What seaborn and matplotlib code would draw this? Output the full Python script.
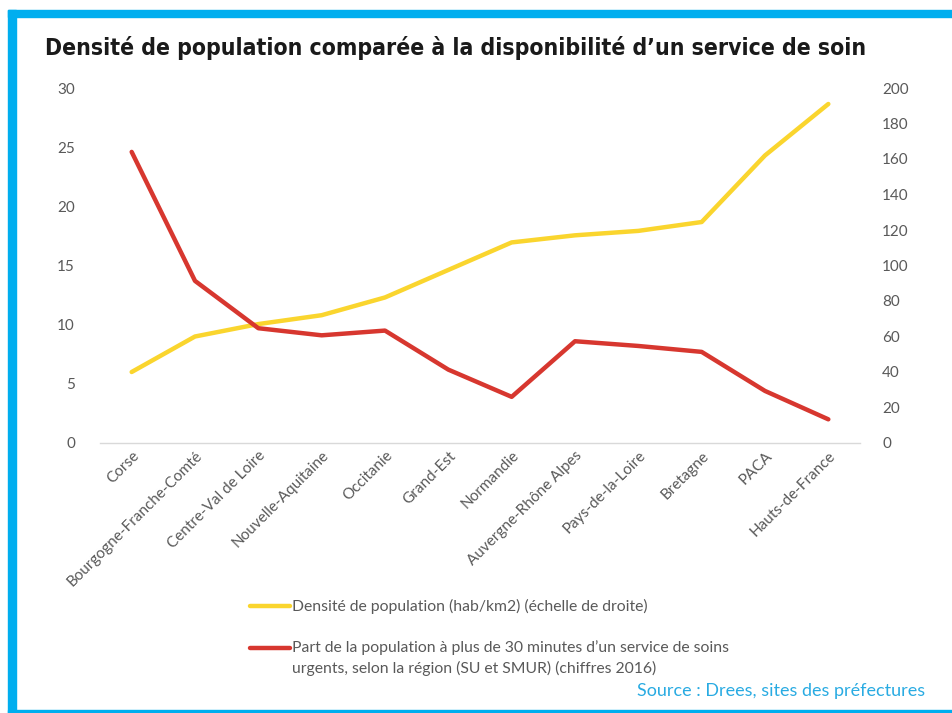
import matplotlib
matplotlib.use("Agg")
import matplotlib.pyplot as plt
import seaborn as sns
import pandas as pd
from matplotlib.lines import Line2D
from matplotlib.patches import Rectangle

regions = ["Corse", "Bourgogne-Franche-Comté", "Centre-Val de Loire", "Nouvelle-Aquitaine",
           "Occitanie", "Grand-Est", "Normandie", "Auvergne-Rhône Alpes", "Pays-de-la-Loire",
           "Bretagne", "PACA", "Hauts-de-France"]
part_30min = [24.6, 13.7, 9.7, 9.1, 9.5, 6.2, 3.9, 8.6, 8.2, 7.7, 4.4, 2.0]
densite = [40, 60, 67, 72, 82, 97.5, 113, 117, 119.5, 124.5, 162, 191]
left_ticks = [0, 5, 10, 15, 20, 25, 30]
right_ticks = [0, 20, 40, 60, 80, 100, 120, 140, 160, 180, 200]

label_dens = "Densité de population (hab/km2) (échelle de droite)"
label_part_1 = "Part de la population à plus de 30 minutes d\u2019un service de soins"
label_part_2 = "urgents, selon la région (SU et SMUR) (chiffres 2016)"
title = "Densité de population comparée à la disponibilité d\u2019un service de soin"
source = "Source : Drees, sites des préfectures"

YELLOW = "#FAD52E"
RED = "#D7372F"
GREY = "#595959"
BLUE = "#00AEEF"

sns.set_style("white")
plt.rcParams["font.family"] = ["Lato", "DejaVu Sans"]

df = pd.DataFrame({"x": range(len(regions)), "part": part_30min, "dens": densite})

W, H = 952, 713
fig = plt.figure(figsize=(W / 100, H / 100), dpi=100)
ax = fig.add_axes([100 / W, 1 - 443 / H, 760 / W, 355 / H])
ax2 = ax.twinx()

sns.lineplot(data=df, x="x", y="part", ax=ax, color=RED, linewidth=3.2, zorder=3)
sns.lineplot(data=df, x="x", y="dens", ax=ax2, color=YELLOW, linewidth=3.2, zorder=2)
ax.set_zorder(ax2.get_zorder() + 1)
ax.patch.set_visible(False)

ax.set_xlim(-0.5, len(regions) - 0.5)
ax.set_ylim(0, 30)
ax2.set_ylim(0, 200)
ax.set_yticks(left_ticks)
ax2.set_yticks(right_ticks)
ax.set_xticks(range(len(regions)))
ax.set_xticklabels(regions, rotation=45, ha="right", rotation_mode="anchor",
                   fontsize=11, color=GREY)
ax.set_xticks([i - 0.5 for i in range(len(regions) + 1)], minor=True)
ax.tick_params(axis="x", which="major", length=0, pad=4)
ax.tick_params(axis="x", which="minor", length=5, color="#D9D9D9", width=1)
ax.tick_params(axis="y", length=0, labelsize=11, labelcolor=GREY, pad=18)
ax2.tick_params(axis="y", length=0, labelsize=11, labelcolor=GREY, pad=16)
for a in (ax, ax2):
    a.set_xlabel("")
    a.set_ylabel("")
    for s in ("top", "left", "right"):
        a.spines[s].set_visible(False)
    a.grid(False)
ax.spines["bottom"].set_color("#D9D9D9")
ax.spines["bottom"].set_linewidth(1)
ax2.spines["bottom"].set_visible(False)

def fx(px):
    return px / W

def fy(py):
    return 1 - py / H

fig.add_artist(Line2D([fx(250), fx(290)], [fy(606), fy(606)], color=YELLOW, lw=3.2,
                      transform=fig.transFigure))
fig.add_artist(Line2D([fx(250), fx(290)], [fy(648), fy(648)], color=RED, lw=3.2,
                      transform=fig.transFigure))
fig.text(fx(292), fy(606), label_dens, fontsize=11.3, color=GREY, va="center", ha="left")
fig.text(fx(292), fy(648), label_part_1, fontsize=11.3, color=GREY, va="center", ha="left")
fig.text(fx(292), fy(668), label_part_2, fontsize=11.3, color=GREY, va="center", ha="left")

fig.text(fx(45), fy(48), title, fontsize=16.5, fontweight="bold", color="#1a1a1a",
         va="center", ha="left", family="DejaVu Sans", fontstretch="condensed")
fig.text(fx(925), fy(691), source, fontsize=13, color="#29ABE2", ha="right", va="center")

fig.patches.append(Rectangle((8 / W, 0), 8 / W, 1 - 10 / H, transform=fig.transFigure,
                             color=BLUE, zorder=0))
fig.patches.append(Rectangle((8 / W, 1 - 17 / H), 1, 7 / H, transform=fig.transFigure,
                             color=BLUE, zorder=0))
fig.patches.append(Rectangle((8 / W, 0), 1, 3 / H, transform=fig.transFigure,
                             color=BLUE, zorder=0))

fig.savefig("out.png", dpi=100)
